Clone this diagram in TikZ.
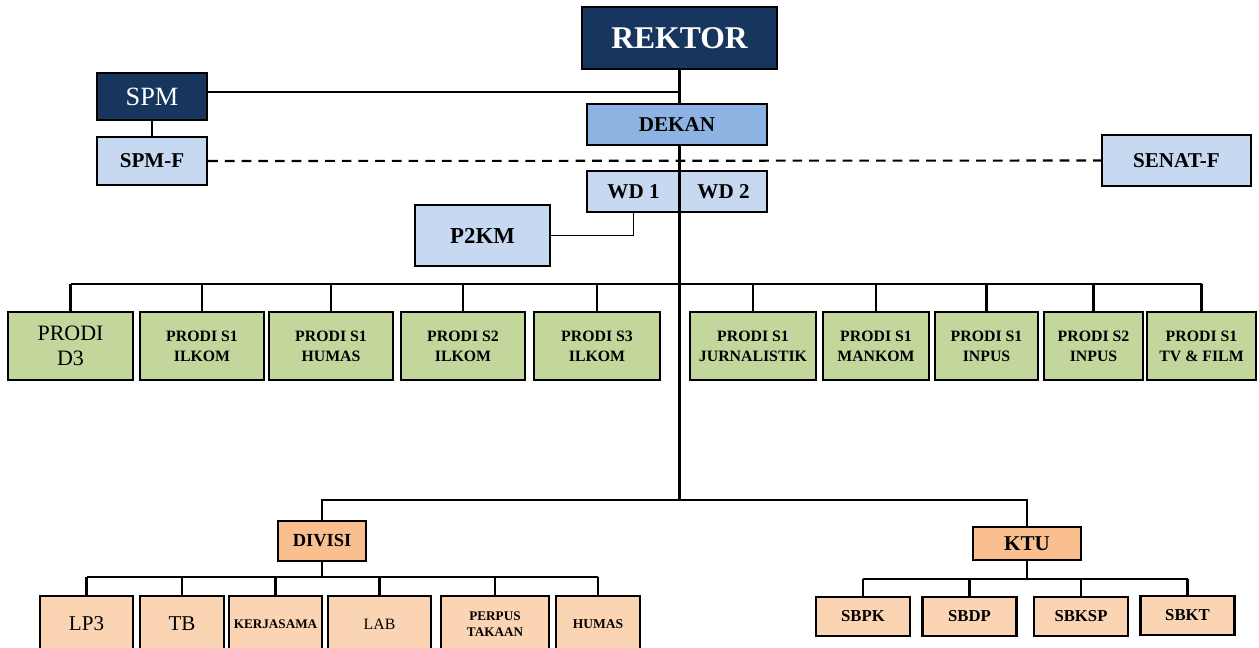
\documentclass[tikz,border=0pt]{standalone}
\usepackage{fontspec}
\setmainfont{Liberation Serif}
\definecolor{rektorblue}{RGB}{23,54,93}
\definecolor{dekanblue}{RGB}{141,179,226}
\definecolor{senatblue}{RGB}{198,217,241}
\definecolor{prodigreen}{RGB}{195,214,155}
\definecolor{headorange}{RGB}{250,191,143}
\definecolor{unitorange}{RGB}{251,212,180}
\begin{document}
\begin{tikzpicture}[x=0.2mm,y=-0.2mm,
	box/.style={draw,line width=1.4pt,inner sep=0pt,align=center},
	navybox/.style={box,fill=rektorblue,text=white},
	bluebox/.style={box,fill=senatblue,font=\bfseries\fontsize{12}{14}\selectfont},
	prodibox/.style={box,fill=prodigreen,minimum height=13.6mm,font=\bfseries\fontsize{9}{11.3}\selectfont},
	headbox/.style={box,fill=headorange},
	unitbox/.style={box,fill=unitorange,minimum height=11.2mm},
	sbbox/.style={box,fill=unitorange,minimum width=18.8mm,minimum height=7.8mm,font=\bfseries\fontsize{9.5}{11}\selectfont},
	link/.style={line width=1.2pt},
	dashlink/.style={link,dash pattern=on 5.5pt off 4pt}]
		\useasboundingbox (0,0) rectangle (1259,647);
		\clip (0,0) rectangle (1259,647);
		\node[navybox,minimum width=39mm,minimum height=12.4mm,font=\bfseries\fontsize{18}{20}\selectfont] (rektor) at (679.5,38) {REKTOR};
		\node[navybox,minimum width=22mm,minimum height=9.4mm,font=\fontsize{15}{17}\selectfont] (spm) at (152,96.5) {SPM};
		\node[bluebox,minimum width=22mm,minimum height=9.6mm] (spmf) at (152,161) {SPM-F};
		\node[box,fill=dekanblue,minimum width=36mm,minimum height=8.2mm,font=\bfseries\fontsize{12}{14}\selectfont] (dekan) at (677,124.5) {DEKAN};
		\node[bluebox,minimum width=29.8mm,minimum height=10.2mm] (senat) at (1176.5,160.5) {SENAT-F};
		\node[bluebox,minimum width=18.6mm,minimum height=8.2mm] (wd1) at (633.5,191.5) {WD 1};
		\node[bluebox,minimum width=17.4mm,minimum height=8.2mm] (wd2) at (723.5,191.5) {WD 2};
		\node[bluebox,minimum width=27mm,minimum height=12.2mm,font=\bfseries\fontsize{13}{15}\selectfont] (p2km) at (482.5,235.5) {P2KM};
		\node[prodibox,minimum width=25mm,font=\fontsize{12.5}{14.5}\selectfont] (d3) at (70.5,346) {PRODI\\D3};
		\node[prodibox,minimum width=24.8mm] (ilkom) at (202,346) {PRODI S1\\ILKOM};
		\node[prodibox,minimum width=24.8mm] (humas) at (331,346) {PRODI S1\\HUMAS};
		\node[prodibox,minimum width=24.8mm] (ilkomtwo) at (463,346) {PRODI S2\\ILKOM};
		\node[prodibox,minimum width=25.2mm] (ilkomthree) at (597,346) {PRODI S3\\ILKOM};
		\node[prodibox,minimum width=25.2mm] (jurnal) at (753,346) {PRODI S1\\JURNALISTIK};
		\node[prodibox,minimum width=21.2mm] (mankom) at (876,346) {PRODI S1\\MANKOM};
		\node[prodibox,minimum width=20.6mm] (inpus) at (986.5,346) {PRODI S1\\INPUS};
		\node[prodibox,minimum width=19.8mm] (inpustwo) at (1093.5,346) {PRODI S2\\INPUS};
		\node[prodibox,minimum width=21.8mm] (tvfilm) at (1201.5,346) {PRODI S1\\TV \& FILM};
		\node[headbox,minimum width=17.6mm,minimum height=8mm,font=\bfseries\fontsize{10.5}{12}\selectfont] (divisi) at (322,541) {DIVISI};
		\node[headbox,minimum width=21.6mm,minimum height=6.6mm,font=\bfseries\fontsize{12}{14}\selectfont] (ktu) at (1027,543.5) {KTU};
		\node[unitbox,minimum width=18.6mm,font=\fontsize{12}{14}\selectfont] (lp3) at (86.5,624) {LP3};
		\node[unitbox,minimum width=16.8mm,font=\fontsize{12}{14}\selectfont] (tb) at (182,624) {TB};
		\node[unitbox,minimum width=18.6mm,font=\bfseries\fontsize{7.5}{9}\selectfont] (kerja) at (275.5,624) {KERJASAMA};
		\node[unitbox,minimum width=20.6mm,font=\fontsize{9}{11}\selectfont] (lab) at (379.5,624) {LAB};
		\node[unitbox,minimum width=21.6mm,font=\bfseries\fontsize{7.5}{9}\selectfont] (perpus) at (495,624) {PERPUS\\TAKAAN};
		\node[unitbox,minimum width=16.8mm,font=\bfseries\fontsize{7.7}{9}\selectfont] (humasdiv) at (598,624) {HUMAS};
		\node[sbbox] (sbpk) at (863,616.5) {SBPK};
		\node[sbbox] (sbdp) at (969.5,616.5) {SBDP};
		\node[sbbox] (sbksp) at (1081,616.5) {SBKSP};
		\node[sbbox] (sbkt) at (1187.5,615.5) {SBKT};
		\coordinate (spmjoin) at (679.5,92);
		\coordinate (spine) at (679.5,500);
		\coordinate (prodibus) at (679.5,284);
		\coordinate (divbus) at (322,577);
		\coordinate (ktubus) at (1027,579);
		\draw[link] (rektor.south) -- (rektor.south |- dekan.north);
		\draw[link] (spm.east |- spmjoin) -- (spmjoin);
		\draw[link] (spm.south) -- (spmf.north);
		\draw[dashlink] (spmf.east) -- (senat.west);
		\draw[link] (rektor.south |- dekan.south) -- (spine);
		\draw[line width=1pt] (p2km.east) -| (wd1.south);
		\draw[link] (d3.north |- prodibus) -- (tvfilm.north |- prodibus);
		\foreach \p in {d3,ilkom,humas,ilkomtwo,ilkomthree,jurnal,mankom,inpus,inpustwo,tvfilm}
			\draw[link] (\p.north) -- (\p.north |- prodibus);
		\draw[link] (divisi.north) |- (spine) -| (ktu.north);
		\draw[link] (divisi.south) -- (divbus);
		\draw[link] (lp3.north |- divbus) -- (humasdiv.north |- divbus);
		\foreach \p in {lp3,tb,kerja,lab,perpus,humasdiv}
			\draw[link] (\p.north) -- (\p.north |- divbus);
		\draw[link] (ktu.south) -- (ktubus);
		\draw[link] (sbpk.north |- ktubus) -- (sbkt.north |- ktubus);
		\foreach \p in {sbpk,sbdp,sbksp,sbkt}
			\draw[link] (\p.north) -- (\p.north |- ktubus);
	\end{tikzpicture}
\end{document}
